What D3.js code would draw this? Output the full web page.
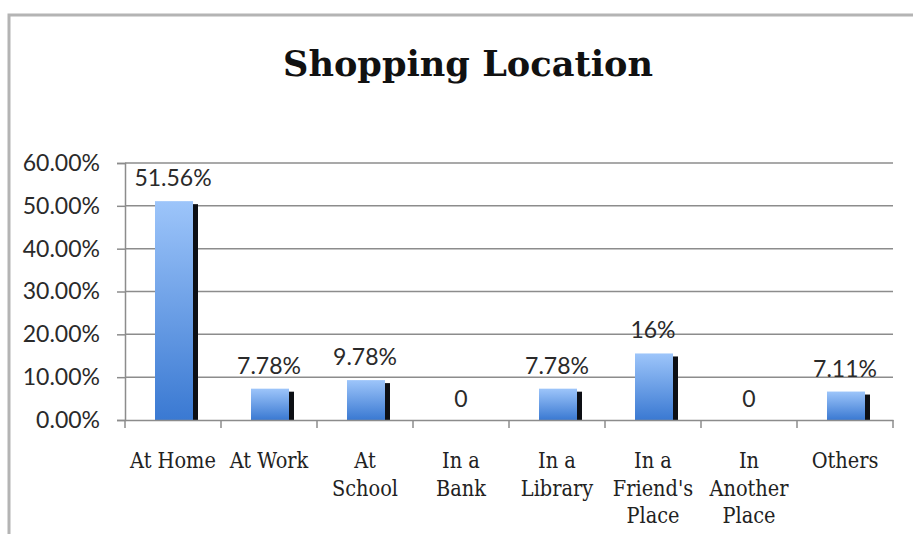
<!DOCTYPE html>
<html>
<head>
<meta charset="utf-8">
<script src="https://cdn.jsdelivr.net/npm/d3@7"></script>
<style>
  html, body { margin: 0; padding: 0; background: #fff; }
  svg { display: block; }
</style>
</head>
<body>
<svg id="chart" width="913" height="534"></svg>
<script>
// Shopping location shares (percent)
const categories = [
  ["At Home"], ["At Work"], ["At", "School"], ["In a", "Bank"],
  ["In a", "Library"], ["In a", "Friend's", "Place"], ["In", "Another", "Place"], ["Others"]
];
const values = [51.56, 7.78, 9.78, 0, 7.78, 16, 0, 7.11];
const valueLabels = ["51.56%", "7.78%", "9.78%", "0", "7.78%", "16%", "0", "7.11%"];
const yTicks = [0, 10, 20, 30, 40, 50, 60];
const title = "Shopping Location";

const svg = d3.select("#chart");
const W = 913, H = 534;
const plot = { left: 125, right: 893, top: 163, bottom: 420 };

// Outer frame (top and left edges visible)
svg.append("path")
  .attr("d", `M9,${H} V15 H${W}`)
  .attr("fill", "none").attr("stroke", "#b4b4b4").attr("stroke-width", 3);

// Title, fitted to its width
const titleText = svg.append("text")
  .attr("x", 468).attr("y", 76)
  .attr("text-anchor", "middle")
  .attr("font-family", "'DejaVu Serif', serif")
  .attr("font-weight", "bold")
  .attr("font-size", 34)
  .attr("fill", "#111")
  .text(title);
{
  const w = titleText.node().getComputedTextLength();
  titleText.attr("font-size", 34 * 370 / w);
}

const keys = d3.range(categories.length);
const x = d3.scaleBand().domain(keys).range([plot.left, plot.right]).paddingInner(0).paddingOuter(0);
const y = d3.scaleLinear().domain([0, 60]).range([plot.bottom, plot.top]);

// Gridlines
svg.append("g").selectAll("line").data(yTicks.filter(t => t > 0)).join("line")
  .attr("x1", plot.left).attr("x2", plot.right)
  .attr("y1", d => y(d)).attr("y2", d => y(d))
  .attr("stroke", "#8c8c8c").attr("stroke-width", 1.5);

// Y axis
const yAxis = svg.append("g").attr("transform", `translate(${plot.left},0)`)
  .call(d3.axisLeft(y).tickValues(yTicks).tickSize(8).tickPadding(17)
    .tickFormat(d => d.toFixed(2) + "%"));
yAxis.select(".domain").attr("stroke", "#8c8c8c").attr("stroke-width", 1.5);
yAxis.selectAll(".tick line").attr("stroke", "#8c8c8c").attr("stroke-width", 1.5);
yAxis.selectAll(".tick text")
  .attr("font-family", "Lato, 'Open Sans', sans-serif")
  .attr("font-size", 23).attr("fill", "#2a2a2a");

// Bar gradient
const defs = svg.append("defs");
const grad = defs.append("linearGradient").attr("id", "barGrad")
  .attr("x1", 0).attr("y1", 0).attr("x2", 0).attr("y2", 1);
grad.append("stop").attr("offset", "0%").attr("stop-color", "#9dc5fa");
grad.append("stop").attr("offset", "100%").attr("stop-color", "#3a79d2");

const barW = 38, shadowW = 5;
const bars = svg.append("g").selectAll("g").data(keys.filter(i => values[i] > 0)).join("g");

// dark side edge of each bar
bars.append("rect")
  .attr("x", i => x(i) + x.bandwidth() / 2 - barW / 2 + 1 + barW)
  .attr("y", i => y(values[i]) + 5)
  .attr("width", shadowW)
  .attr("height", i => plot.bottom - y(values[i]) - 5)
  .attr("fill", "#0d0f14");

bars.append("rect")
  .attr("x", i => x(i) + x.bandwidth() / 2 - barW / 2 + 1)
  .attr("y", i => y(values[i]) + 2)
  .attr("width", barW)
  .attr("height", i => plot.bottom - y(values[i]) - 2)
  .attr("fill", "url(#barGrad)");

// X axis
const xAxis = svg.append("g").attr("transform", `translate(0,${plot.bottom})`)
  .call(d3.axisBottom(x).tickSize(0).tickFormat(""));
xAxis.select(".domain").attr("stroke", "#8c8c8c").attr("stroke-width", 1.5);
svg.append("g").selectAll("line").data(d3.range(categories.length + 1)).join("line")
  .attr("x1", i => plot.left + i * x.bandwidth()).attr("x2", i => plot.left + i * x.bandwidth())
  .attr("y1", plot.bottom).attr("y2", plot.bottom + 8)
  .attr("stroke", "#8c8c8c").attr("stroke-width", 1.5);

// Category labels
svg.append("g").selectAll("text").data(keys).join("text")
  .attr("text-anchor", "middle")
  .attr("font-family", "'DejaVu Serif', serif")
  .attr("font-stretch", "condensed")
  .attr("font-size", 21.5)
  .attr("fill", "#222")
  .each(function (i) {
    const t = d3.select(this);
    categories[i].forEach((line, k) => {
      t.append("tspan")
        .attr("x", x(i) + x.bandwidth() / 2)
        .attr("y", 468 + k * 27.5)
        .text(line);
    });
  });

// Value labels
svg.append("g").selectAll("text").data(keys).join("text")
  .attr("x", i => x(i) + x.bandwidth() / 2)
  .attr("y", i => y(values[i]) - 13)
  .attr("text-anchor", "middle")
  .attr("font-family", "Lato, 'Open Sans', sans-serif")
  .attr("font-size", 23)
  .attr("fill", "#2a2a2a")
  .text(i => valueLabels[i]);
</script>
</body>
</html>
